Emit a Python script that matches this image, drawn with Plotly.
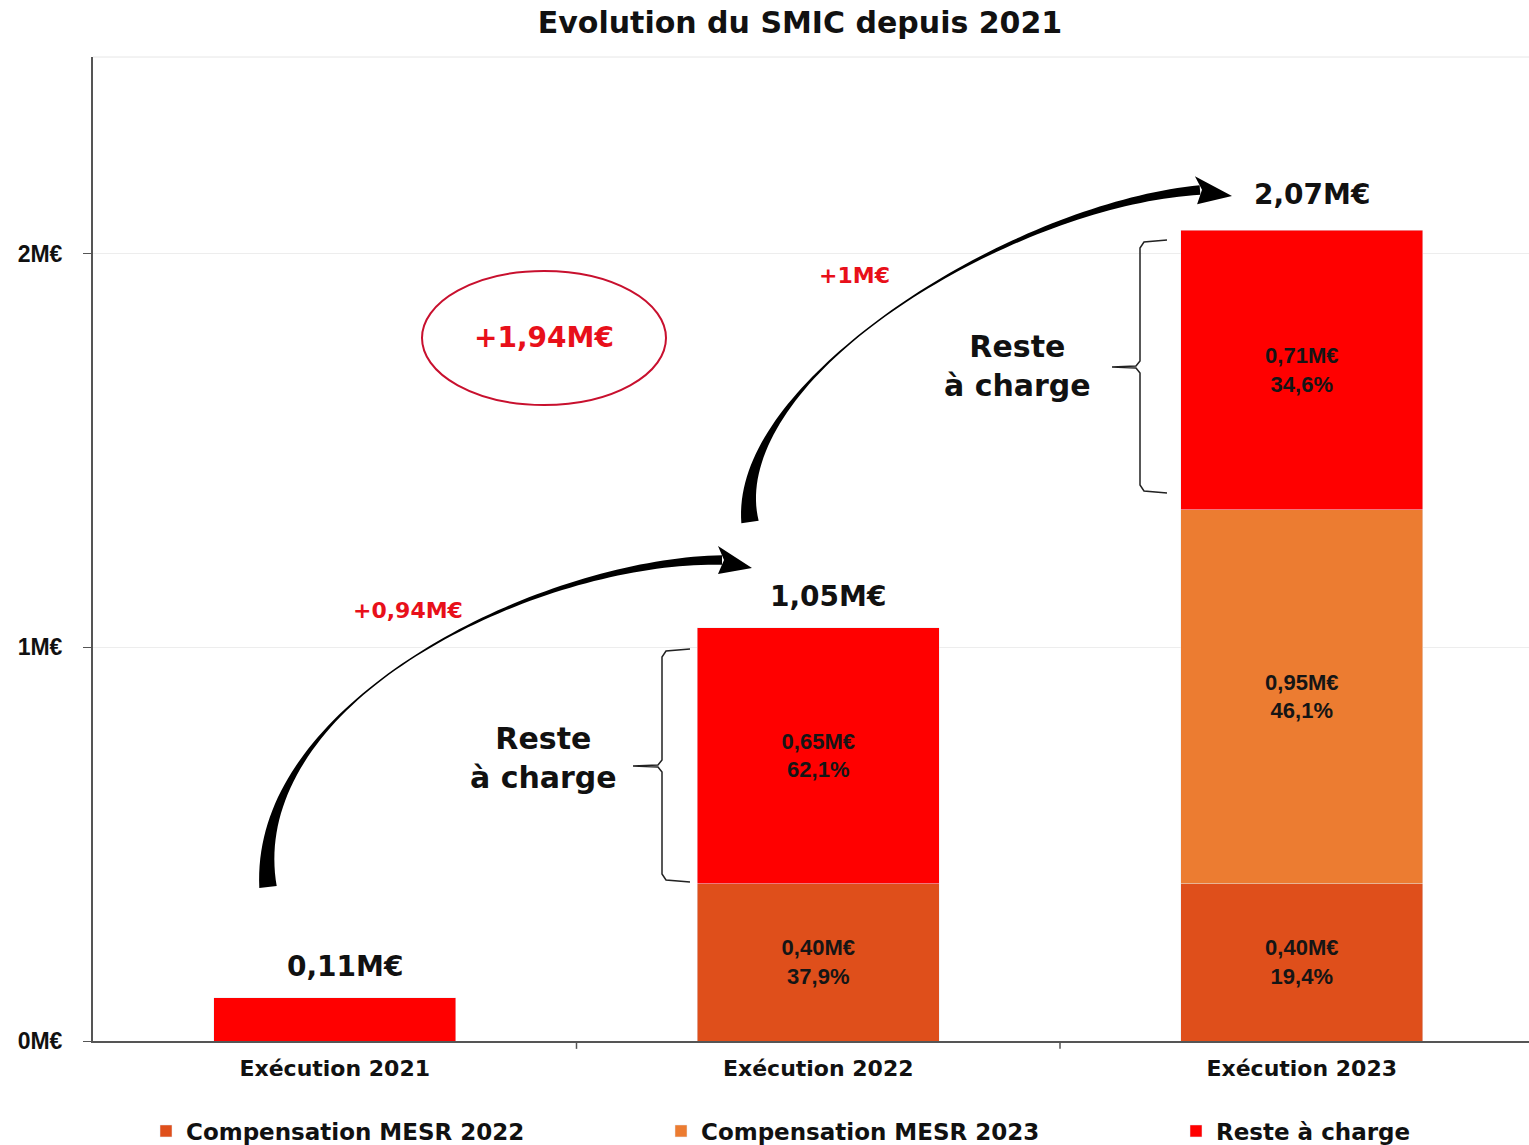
import plotly.graph_objects as go
import numpy as np

categories = ["Exécution 2021", "Exécution 2022", "Exécution 2023"]
comp_2022 = [None, 0.40, 0.40]
comp_2023 = [None, None, 0.95]
reste = [0.11, 0.65, 0.71]
comp_2022_text = ["", "0,40M€<br>37,9%", "0,40M€<br>19,4%"]
comp_2023_text = ["", "", "0,95M€<br>46,1%"]
reste_text = ["", "0,65M€<br>62,1%", "0,71M€<br>34,6%"]
totals = [0.11, 1.05, 2.07]
total_labels = ["0,11M€", "1,05M€", "2,07M€"]
y_ticks = [0, 1, 2]
y_tick_labels = ["0M€", "1M€", "2M€"]

C_DARK = "#DF4F1B"
C_ORANGE = "#EC7C31"
C_RED = "#FF0000"
FONT = "Liberation Sans"
WIDE = "DejaVu Sans"

# plot geometry in pixels (for decorative shapes)
L, R, T, B = 93, 1529, 57, 1041


def px2paper(px, py):
    return (px - L) / (R - L), (B - py) / (B - T)


x = list(range(len(categories)))
fig = go.Figure()
tf = dict(family=FONT, size=22, color="#151515", weight="bold")
for vals, txt, nm, col, lg in [
    (comp_2022, comp_2022_text, "Compensation MESR 2022", C_DARK, "legend"),
    (comp_2023, comp_2023_text, "Compensation MESR 2023", C_ORANGE, "legend2"),
    (reste, reste_text, "Reste à charge", C_RED, "legend3"),
]:
    fig.add_trace(go.Bar(x=x, y=vals, name=nm, marker_color=col, text=txt,
                         textposition="inside", insidetextanchor="middle",
                         textfont=tf, width=0.5, hoverinfo="skip", legend=lg))

for xi, t, lab in zip(x, totals, total_labels):
    fig.add_annotation(x=xi, y=t, text="<b>" + lab + "</b>", showarrow=False, yanchor="bottom",
                       yshift=13, xshift=10, font=dict(family=WIDE, size=28, color="#111111"))

shapes = []


def tapered_arrow(P, wfun, tip, headw):
    P = np.array(P, dtype=float)
    ts = np.linspace(0, 1, 80)
    pts = []
    ders = []
    for t in ts:
        b = ((1 - t) ** 3) * P[0] + 3 * ((1 - t) ** 2) * t * P[1] + 3 * (1 - t) * t * t * P[2] + t ** 3 * P[3]
        d = 3 * ((1 - t) ** 2) * (P[1] - P[0]) + 6 * (1 - t) * t * (P[2] - P[1]) + 3 * t * t * (P[3] - P[2])
        pts.append(b)
        ders.append(d / np.linalg.norm(d))
    left, right = [], []
    for t, b, d in zip(ts, pts, ders):
        n = np.array([-d[1], d[0]])
        w = wfun(t) / 2
        left.append(b + n * w)
        right.append(b - n * w)
    poly = left + right[::-1]
    path = ""
    for i, p in enumerate(poly):
        xx, yy = px2paper(*p)
        path += ("M" if i == 0 else "L") + f"{xx:.5f},{yy:.5f} "
    path += "Z"
    shapes.append(dict(type="path", path=path, xref="paper", yref="paper",
                       fillcolor="black", line=dict(width=0), layer="above"))
    end = pts[-1]
    d = ders[-1]
    n = np.array([-d[1], d[0]])
    tipp = np.array(tip, dtype=float)
    a = end + n * headw / 2 - d * 4
    c = end - n * headw / 2 - d * 4
    hp = ""
    for i, p in enumerate([a, tipp, c, end + d * 2]):
        xx, yy = px2paper(*p)
        hp += ("M" if i == 0 else "L") + f"{xx:.5f},{yy:.5f} "
    hp += "Z"
    shapes.append(dict(type="path", path=hp, xref="paper", yref="paper",
                       fillcolor="black", line=dict(width=0), layer="above"))


def wf(t):
    if t < 0.45:
        return 1.5 + 16 * (1 - t / 0.45) ** 2
    return 1.5 + 8 * ((t - 0.45) / 0.55) ** 1.5


tapered_arrow([(268, 887), (248, 700), (540, 560), (722, 560)], wf, (752, 568), 28)
tapered_arrow([(750, 522), (728, 380), (1010, 205), (1200, 190)], wf, (1232, 196), 28)


def bracket(xl, xr, ytop, ybot, ymid, xtick):
    pts = [(xr, ytop), (xl + 4, ytop + 2), (xl, ytop + 8), (xl, ymid - 6), (xl - 4, ymid - 1),
           (xtick, ymid), (xl - 4, ymid + 1), (xl, ymid + 6), (xl, ybot - 8), (xl + 4, ybot - 2), (xr, ybot)]
    path = ""
    for i, p in enumerate(pts):
        xx, yy = px2paper(*p)
        path += ("M" if i == 0 else "L") + f"{xx:.5f},{yy:.5f} "
    shapes.append(dict(type="path", path=path, xref="paper", yref="paper",
                       line=dict(color="#222222", width=1.5)))


bracket(662, 690, 649, 882, 766, 633)
bracket(1140, 1167, 240, 493, 367, 1112)

ex0, ey0 = px2paper(422, 405)
ex1, ey1 = px2paper(666, 271)
shapes.append(dict(type="circle", xref="paper", yref="paper", x0=ex0, y0=ey0, x1=ex1, y1=ey1,
                   line=dict(color="#C8102E", width=2)))
shapes.append(dict(type="line", xref="paper", yref="paper", x0=0, x1=1, y0=1, y1=1,
                   line=dict(color="#E6E6E6", width=1)))
for sep in [0.5, 1.5]:
    shapes.append(dict(type="line", xref="x", yref="paper", x0=sep, x1=sep, y0=0, y1=-0.008,
                       line=dict(color="#555555", width=1.5)))

fig.update_layout(shapes=shapes)


def ann(px, py, text, size, color, family=WIDE):
    xx, yy = px2paper(px, py)
    fig.add_annotation(x=xx, y=yy, xref="paper", yref="paper", text=text, showarrow=False,
                       xanchor="center", yanchor="middle",
                       font=dict(family=family, size=size, color=color))


ann(544, 338, "<b>+1,94M€</b>", 28, "#E8101A")
ann(408, 610, "<b>+0,94M€</b>", 22, "#E8101A")
ann(854, 275, "<b>+1M€</b>", 22, "#E8101A")
ann(543, 758, "<b>Reste<br>à charge</b>", 30, "#111111")
ann(1017, 366, "<b>Reste<br>à charge</b>", 30, "#111111")

leg_common = dict(orientation="h", yanchor="middle", y=(B - 1131) / (B - T),
                  xanchor="left", font=dict(family=WIDE, size=23, color="#111111", weight="bold"),
                  bgcolor="rgba(0,0,0,0)")

fig.update_layout(
    barmode="stack",
    width=1529, height=1145,
    margin=dict(l=L, r=0, t=T, b=1145 - B, autoexpand=False),
    paper_bgcolor="white", plot_bgcolor="white",
    title=dict(text="<b>Evolution du SMIC depuis 2021</b>", x=800 / 1529, xanchor="center",
               y=1 - 22 / 1145, yanchor="middle", font=dict(family=WIDE, size=30, color="#111111")),
    font=dict(family=FONT, color="#111111"),
    xaxis=dict(range=[-0.5, 2.47], tickmode="array", tickvals=x,
               ticktext=["<b>" + c + "</b>" for c in categories],
               showgrid=False, showline=True, linecolor="#555555", linewidth=1.5,
               ticks="", ticklabelstandoff=7,
               tickfont=dict(family=WIDE, size=22, color="#111111"), zeroline=False),
    yaxis=dict(range=[0, 2.5], tickmode="array", tickvals=y_ticks,
               ticktext=["<b>" + t + "</b>" for t in y_tick_labels],
               showgrid=True, gridcolor="#EDEDED", gridwidth=1,
               showline=True, linecolor="#555555", linewidth=2, ticks="outside", ticklen=8,
               tickcolor="#555555", ticklabelstandoff=16,
               tickfont=dict(family=FONT, size=23, color="#111111"),
               zeroline=False),
    legend=dict(x=(146 - L) / (R - L), **leg_common),
    legend2=dict(x=(661 - L) / (R - L), **leg_common),
    legend3=dict(x=(1176 - L) / (R - L), **leg_common),
    showlegend=True,
)

fig.update_traces(cliponaxis=False)
fig.write_html("out.html", config={"displayModeBar": False},
               post_script="document.body.style.margin='0';")
